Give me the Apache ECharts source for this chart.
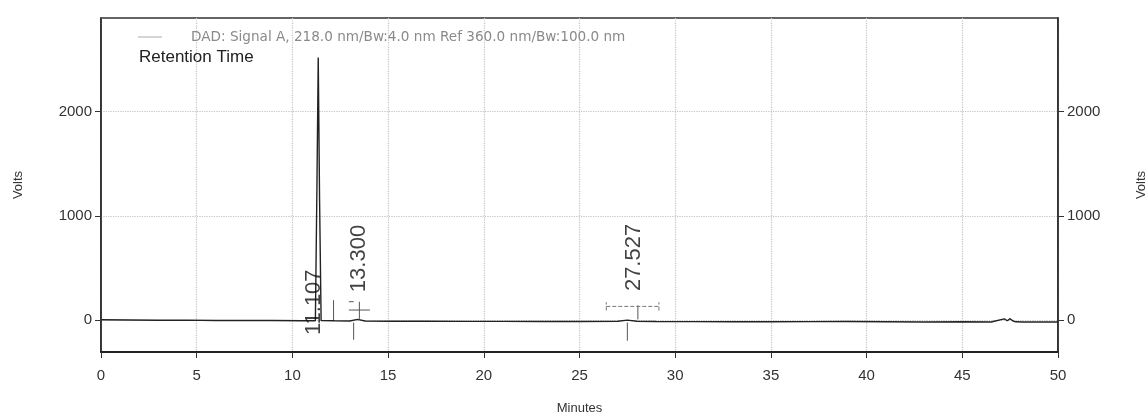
<!DOCTYPE html>
<html><head><meta charset="utf-8">
<script src="https://cdn.jsdelivr.net/npm/echarts@6/dist/echarts.min.js"></script>
<style>html,body{margin:0;padding:0;background:#fff}#c{width:1147px;height:414px}</style>
</head><body><div id="c"></div>
<script>
// ---- data ----
const signalName = 'DAD: Signal A, 218.0 nm/Bw:4.0 nm Ref 360.0 nm/Bw:100.0 nm';
const xTicks = [0, 5, 10, 15, 20, 25, 30, 35, 40, 45, 50];
const yTicks = [0, 1000, 2000];
const traceTime = [0, 1.5, 3, 4.5, 6, 7.5, 9, 10.5, 11.2, 11.28, 11.35, 11.42, 11.5, 12.2, 13.0, 13.4, 13.8, 15, 17, 19, 21, 23, 25, 27, 27.5, 28, 29, 31, 33, 35, 37, 39, 41, 43, 45, 46.5, 47.2, 47.35, 47.5, 47.65, 47.8, 48.2, 49, 50];
const traceVolts = [2, 0, -3, -2, -5, -6, -6, -8, -8, 1250, 2520, 1150, -5, -8, -10, 5, -10, -12, -12, -14, -14, -15, -15, -12, -2, -12, -15, -16, -18, -18, -16, -15, -18, -20, -18, -20, 10, -8, 12, -10, -18, -20, -20, -20];
const peakTimes = ['11.107', '13.300', '27.527'];
const peakLabelX = [11.12, 13.48, 27.85];
const peakLabelY = [170, 590, 600];
// integration event marks (segments separated by null)
const eventX = [12.15, 12.15, null, 12.95, 14.05, null, 13.5, 13.5, null, 12.95, 13.2, null, 13.2, 13.2, null, 28.05, 28.05, null, 27.5, 27.5];
const eventY = [0, 190, null, 95, 95, null, 10, 175, null, 175, 175, null, -25, -190, null, 5, 140, null, -25, -200];
const baseBarX = [26.4, 26.4, null, 26.4, 29.15, null, 29.15, 29.15];
const baseBarY = [90, 170, null, 130, 130, null, 90, 170];

const pairs = (xs, ys) => xs.map((x, i) => x === null ? ['-', '-'] : [x, ys[i]]);

const chart = echarts.init(document.getElementById('c'));
const axisFont = {fontFamily: 'Liberation Sans', fontSize: 15, color: '#333'};
const yAxisCommon = {
  type: 'value', min: -308, max: 2900,
  axisLine: {show: true, lineStyle: {color: '#222', width: 1.5}},
  axisTick: {show: true, customValues: yTicks, length: 6, lineStyle: {color: '#333'}},
  axisLabel: Object.assign({customValues: yTicks, margin: 9, formatter: v => String(v)}, axisFont),
  splitLine: {show: true, lineStyle: {color: '#c4c4c4', type: 'dotted', width: 1.2}},
  name: 'Volts', nameLocation: 'middle', nameRotate: 90, nameGap: 76,
  nameTextStyle: {fontFamily: 'Liberation Sans', fontSize: 13, color: '#333'}
};
chart.setOption({
  animation: false,
  backgroundColor: '#fff',
  title: {text: 'Retention Time', left: 134, top: 44,
    textStyle: {fontFamily: 'Liberation Sans', fontSize: 17, fontWeight: 'normal', color: '#222'}},
  legend: {left: 133, top: 25, itemWidth: 24, itemHeight: 1, itemGap: 6,
    data: [{name: signalName, icon: 'rect'}],
    itemStyle: {color: '#aaa'},
    textStyle: {fontFamily: 'DejaVu Sans', fontSize: 13.6, color: '#8a8a8a', padding: [0, 0, 0, 24]}},
  grid: {left: 101, right: 89, top: 18, bottom: 62, outerBoundsMode: 'none', containLabel: false,
    show: true, borderColor: '#333', borderWidth: 1.5, backgroundColor: 'transparent'},
  xAxis: {
    type: 'value', min: 0, max: 50, interval: 5,
    axisLine: {show: true, onZero: false, lineStyle: {color: '#222', width: 1.8}},
    axisTick: {show: true, length: 6, lineStyle: {color: '#333'}},
    axisLabel: Object.assign({margin: 16}, axisFont),
    splitLine: {show: true, lineStyle: {color: '#c4c4c4', type: 'dotted', width: 1.2}},
    name: 'Minutes', nameLocation: 'middle', nameGap: 50,
    nameTextStyle: {fontFamily: 'Liberation Sans', fontSize: 13, color: '#333'}
  },
  yAxis: [
    Object.assign({}, yAxisCommon, {position: 'left'}),
    Object.assign({}, yAxisCommon, {position: 'right', nameGap: 77, splitLine: {show: false}})
  ],
  series: [
    {name: signalName, type: 'line', symbol: 'none', yAxisIndex: 0,
      data: traceTime.map((t, i) => [t, traceVolts[i]]),
      lineStyle: {color: '#222', width: 1.4}, z: 3},
    {name: 'events', type: 'line', symbol: 'none', connectNulls: false,
      data: pairs(eventX, eventY), lineStyle: {color: '#555', width: 1}, z: 2},
    {name: 'baseline', type: 'line', symbol: 'none', connectNulls: false,
      data: pairs(baseBarX, baseBarY), lineStyle: {color: '#777', width: 1, type: 'dashed'}, z: 2},
    {name: 'peaks', type: 'scatter', symbolSize: 0,
      data: peakLabelX.map((x, i) => ({value: [x, peakLabelY[i]], name: peakTimes[i]})),
      label: {show: true, position: 'inside', rotate: 90, formatter: p => p.name,
        fontFamily: 'Liberation Sans', fontSize: 22, color: '#111'}, z: 5}
  ]
});
</script></body></html>
